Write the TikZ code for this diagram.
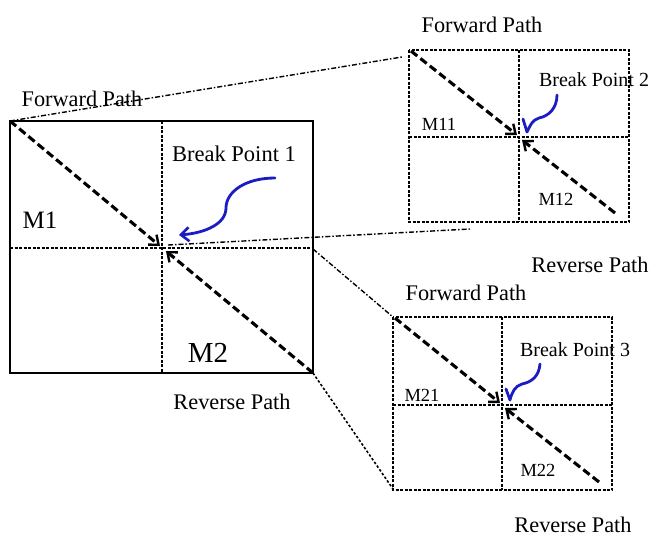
\documentclass[tikz,border=0pt]{standalone}
\usepackage{fontspec}
\setmainfont{Liberation Serif}
\usetikzlibrary{arrows.meta}
\definecolor{penblue}{RGB}{28,28,195}
\tikzset{
  outerbox/.style={line width=1.8pt},
  gridline/.style={line width=1.6pt, dash pattern=on 3pt off 1.5pt},
  diag/.style={line width=3.1pt, dash pattern=on 8pt off 4pt, -{Straight Barb[length=8pt,width=13pt,line width=2.4pt]}},
  link/.style={line width=1.4pt, dash pattern=on 5pt off 2pt on 1.5pt off 2pt},
  dotlink/.style={line width=1.6pt, dash pattern=on 2.5pt off 2pt},
  pen/.style={penblue, line width=2.8pt, line cap=round, line join=round},
  lab/.style={inner sep=0pt, font=\fontsize{22.3}{22.3}\selectfont},
  biglab/.style={inner sep=0pt, font=\fontsize{22.5}{22.5}\selectfont},
  smlab/.style={inner sep=0pt, font=\fontsize{18.5}{18.5}\selectfont},
  bplab/.style={inner sep=0pt, font=\fontsize{20}{20}\selectfont},
}
\begin{document}
\begin{tikzpicture}[x=1pt,y=-1pt]
\useasboundingbox (0,0) rectangle (651,536);
% ---------- big box ----------
\coordinate (A1) at (10,121);
\coordinate (A2) at (313,373);
\coordinate (Ac) at (162,248);
\draw[gridline] (162,121) -- (162,373);
\draw[gridline] (10,248) -- (313,248);
\draw[outerbox] (A1) rectangle (A2);
\coordinate (Af) at (160,246);
\coordinate (Ar) at (166,251);
\draw[diag] (A1) -- (Af);
\draw[diag] (A2) -- (Ar);
\node[lab] (fp1) at (82,99) {Forward Path};
\node[font=\fontsize{25}{25}\selectfont, inner sep=0pt] (m1) at (40,220) {M1};
\node[biglab] (bp1) at (234,154) {Break Point 1};
\node[font=\fontsize{29}{29}\selectfont, inner sep=0pt] (m2) at (208,353) {M2};
\node[lab] (rp1) at (232,402) {Reverse Path};
\coordinate (b1s) at (275,178);
\coordinate (b1e) at (179,235);
\draw[pen, -{Straight Barb[length=8pt,width=14pt,line width=2.6pt]}] (b1s) .. controls (245,178) and (226,192) .. (226,208) .. controls (226,224) and (205,233) .. (b1e);
% ---------- top box ----------
\coordinate (B1) at (409,50);
\coordinate (B2) at (629,222);
\draw[gridline] (519,50) -- (519,222);
\draw[gridline] (409,137) -- (629,137);
\draw[gridline] (B1) rectangle (B2);
\coordinate (Bs) at (411,51);
\coordinate (Bf) at (517,135);
\coordinate (Bre) at (615,213);
\coordinate (Br) at (522,140);
\draw[diag] (Bs) -- (Bf);
\draw[diag] (Bre) -- (Br);
\node[lab] (fp2) at (482,25) {Forward Path};
\node[bplab] (bp2) at (594,80) {Break Point 2};
\node[smlab] (m11) at (439,124) {M11};
\node[smlab] (m12) at (556,199) {M12};
\node[lab] (rp2) at (590,265) {Reverse Path};
\draw[pen] (557,95) .. controls (557,108) and (549,116) .. (539,118) .. controls (532,120) and (530,126) .. (527,132) -- (523,119);
% ---------- lower box ----------
\coordinate (C1) at (393,317);
\coordinate (C2) at (612,490);
\draw[gridline] (502,317) -- (502,490);
\draw[gridline] (393,405) -- (612,405);
\draw[gridline] (C1) rectangle (C2);
\coordinate (Cs) at (395,318);
\coordinate (Cf) at (500,403);
\coordinate (Cre) at (599,482);
\coordinate (Cr) at (505,408);
\draw[diag] (Cs) -- (Cf);
\draw[diag] (Cre) -- (Cr);
\node[lab] (fp3) at (466,293) {Forward Path};
\node[bplab] (bp3) at (575,350) {Break Point 3};
\node[smlab] (m21) at (422,395) {M21};
\node[smlab] (m22) at (538,470) {M22};
\node[lab] (rp3) at (573,525) {Reverse Path};
\draw[pen] (540,364) .. controls (539,376) and (532,382) .. (522,384) .. controls (515,386) and (512,392) .. (510,400) -- (506,389);
% ---------- zoom links ----------
\coordinate (L1e) at (402,57);
\draw[link] (A1) -- (L1e);
\coordinate (L2s) at (168,245);
\coordinate (L2e) at (470,229);
\draw[link] (L2s) -- (L2e);
\coordinate (L3s) at (313,249);
\draw[link] (L3s) -- (C1);
\coordinate (L4s) at (313,373);
\coordinate (L4e) at (393,489);
\draw[dotlink] (L4s) -- (L4e);
\end{tikzpicture}
\end{document}
